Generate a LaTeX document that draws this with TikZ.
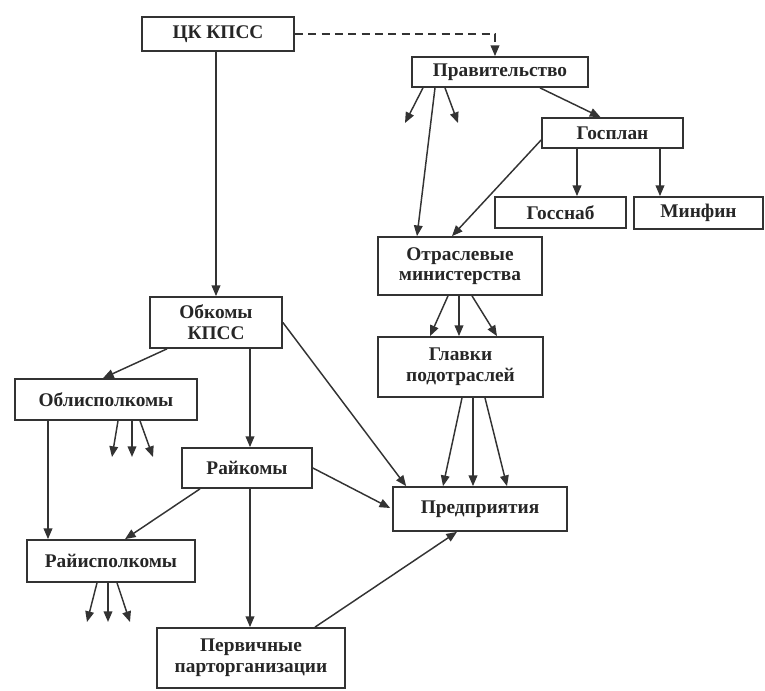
\documentclass[tikz,border=0pt]{standalone}
\usepackage{fontspec}
\setmainfont{Liberation Serif}
\usetikzlibrary{arrows.meta,calc}
\tikzset{
  orgbox/.style 2 args={draw=black!80, line width=1.3pt, fill=white, rectangle,
    minimum width=#1*0.75pt, minimum height=#2*0.75pt, inner sep=1pt,
    align=center, font=\fontsize{14.5}{15.5}\selectfont\bfseries, text=black!85},
  arr/.style={draw=black!80, line width=1.1pt, -{Triangle[length=8pt,width=6.5pt]}},
  dline/.style={arr, dash pattern=on 6pt off 4pt}
}
\begin{document}
\begin{tikzpicture}[x=0.75pt,y=-0.75pt]
\useasboundingbox (0,0) rectangle (765,691);
% nodes
\node[orgbox={152}{34}] (ck) at (218,34) {ЦК КПСС};
\node[orgbox={176}{30}] (prav) at (500,72) {Правительство};
\node[orgbox={141}{30}] (gosplan) at (612.5,133) {Госплан};
\node[orgbox={131}{31}] (gossnab) at (560.5,212.5) {Госснаб};
\node[orgbox={129}{32}] (minfin) at (698.5,213) {Минфин};
\node[orgbox={164}{58}] (otr) at (460,266) {Отраслевые\\министерства};
\node[orgbox={165}{60}] (glav) at (460.5,367) {Главки\\подотраслей};
\node[orgbox={174}{44}] (pred) at (480,509) {Предприятия};
\node[orgbox={132}{51}] (obk) at (216,322.5) {Обкомы\\КПСС};
\node[orgbox={182}{41}] (oblisp) at (106,399.5) {Облисполкомы};
\node[orgbox={130}{40}] (raik) at (247,468) {Райкомы};
\node[orgbox={168}{42}] (raiisp) at (111,561) {Райисполкомы};
\node[orgbox={188}{60}] (perv) at (251,658) {Первичные\\парторганизации};
% free ends
\coordinate (s1) at (405,123);
\coordinate (s2) at (458,123);
\coordinate (s3) at (112,457);
\coordinate (s4) at (132,457);
\coordinate (s5) at (153,457);
\coordinate (s6) at (87,622);
\coordinate (s7) at (108,622);
\coordinate (s8) at (130,622);
% connectors
\draw[dline] (ck.east) -| ($(prav.north)+(-5,0)$);
\draw[arr] ($(prav.south)+(-77,0)$) -- (s1);
\draw[arr] ($(prav.south)+(-55,0)$) -- (s2);
\draw[arr] ($(prav.south)+(-65,0)$) -- ($(otr.north)+(-43,0)$);
\draw[arr] ($(prav.south)+(40,0)$) -- ($(gosplan.north)+(-12,0)$);
\draw[arr] ($(gosplan.west)+(0,7)$) -- ($(otr.north)+(-8,0)$);
\draw[arr] ($(gosplan.south)+(-35.5,0)$) -- ($(gossnab.north)+(16.5,0)$);
\draw[arr] ($(gosplan.south)+(47.5,0)$) -- ($(minfin.north)+(-38.5,0)$);
\draw[arr] ($(otr.south)+(-12,0)$) -- ($(glav.north)+(-30.5,0)$);
\draw[arr] ($(otr.south)+(-1,0)$) -- ($(glav.north)+(-1.5,0)$);
\draw[arr] ($(otr.south)+(12,0)$) -- ($(glav.north)+(36.5,0)$);
\draw[arr] ($(glav.south)+(1.5,0)$) -- ($(pred.north)+(-37,0)$);
\draw[arr] ($(glav.south)+(12.5,0)$) -- ($(pred.north)+(-7,0)$);
\draw[arr] ($(glav.south)+(24.5,0)$) -- ($(pred.north)+(27,0)$);
\draw[arr] (ck.south -| obk.north) -- (obk.north);
\draw[arr] ($(obk.south)+(-49,0)$) -- ($(oblisp.north)+(-3,0)$);
\draw[arr] ($(obk.south)+(34,0)$) -- ($(raik.north)+(3,0)$);
\draw[arr] (obk.east) -- ($(pred.north west)+(14,0)$);
\draw[arr] ($(oblisp.south)+(-58,0)$) -- ($(raiisp.north)+(-63,0)$);
\draw[arr] ($(oblisp.south)+(12,0)$) -- (s3);
\draw[arr] ($(oblisp.south)+(26,0)$) -- (s4);
\draw[arr] ($(oblisp.south)+(34,0)$) -- (s5);
\draw[arr] (raik.east) -- ($(pred.west)+(-2,-1)$);
\draw[arr] ($(raik.south)+(-47,0)$) -- ($(raiisp.north)+(14,0)$);
\draw[arr] ($(raik.south)+(3,0)$) -- ($(perv.north)+(-1,0)$);
\draw[arr] ($(raiisp.south)+(-14,0)$) -- (s6);
\draw[arr] ($(raiisp.south)+(-3,0)$) -- (s7);
\draw[arr] ($(raiisp.south)+(6,0)$) -- (s8);
\draw[arr] ($(perv.north)+(64,0)$) -- ($(pred.south)+(-23,0)$);
\end{tikzpicture}
\end{document}
